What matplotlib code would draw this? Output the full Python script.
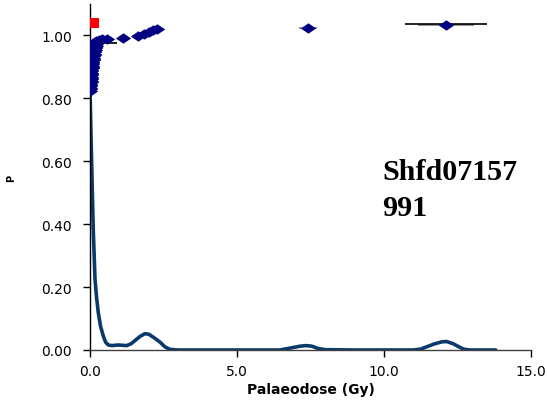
import matplotlib
matplotlib.use("Agg")
import matplotlib.pyplot as plt
from matplotlib.path import Path

# Probability curve (dose in Gy, P)
curve_dose = [0.00, 0.03, 0.07, 0.11, 0.17, 0.22, 0.28, 0.36, 0.45, 0.53, 0.62, 0.75,
              0.96, 1.10, 1.25, 1.40, 1.53, 1.70, 1.87, 2.00, 2.15, 2.38, 2.55, 2.72,
              3.00, 4.00, 5.00, 6.00, 6.46, 6.80, 7.14, 7.35, 7.55, 7.75, 8.00, 9.00,
              10.00, 11.00, 11.25, 11.45, 11.70, 11.97, 12.13, 12.35, 12.55, 12.70,
              12.90, 13.30, 13.80]
curve_p = [0.830, 0.700, 0.540, 0.385, 0.226, 0.170, 0.120, 0.075, 0.045, 0.025, 0.016, 0.014,
           0.016, 0.015, 0.014, 0.020, 0.030, 0.043, 0.052, 0.050, 0.041, 0.025, 0.010, 0.002,
           0.000, 0.000, 0.000, 0.000, 0.000, 0.006, 0.012, 0.014, 0.012, 0.005, 0.001, 0.000,
           0.000, 0.000, 0.003, 0.010, 0.019, 0.026, 0.027, 0.020, 0.010, 0.003,
           0.000, 0.000, 0.000]

# Individual aliquot doses with ranked P positions
point_dose = [0.00, 0.00, 0.00, 0.01, 0.01, 0.01, 0.02, 0.02, 0.02, 0.03, 0.03, 0.03,
              0.04, 0.04, 0.05, 0.05, 0.06, 0.06, 0.07, 0.07, 0.08, 0.08, 0.09, 0.09,
              0.10, 0.11, 0.12, 0.13, 0.14, 0.15, 0.16, 0.17,
              0.18, 0.19, 0.20, 0.21, 0.22,
              0.30, 0.42, 0.58, 1.12, 1.62, 1.85, 2.00, 2.15, 2.28, 7.42, 12.12]
point_p = [0.825, 0.830, 0.834, 0.838, 0.843, 0.847, 0.851, 0.856, 0.860, 0.864, 0.869, 0.873,
           0.877, 0.882, 0.886, 0.890, 0.895, 0.899, 0.903, 0.908, 0.912, 0.916, 0.921, 0.925,
           0.929, 0.934, 0.938, 0.942, 0.947, 0.951, 0.955, 0.960,
           0.964, 0.968, 0.973, 0.977, 0.981,
           0.985, 0.988, 0.990, 0.993, 0.998, 1.004, 1.010, 1.016, 1.020, 1.023, 1.032]
point_err = [0.03, 0.03, 0.03, 0.03, 0.03, 0.03, 0.03, 0.03, 0.03, 0.03, 0.03, 0.03,
             0.03, 0.03, 0.03, 0.03, 0.03, 0.03, 0.03, 0.03, 0.03, 0.03, 0.03, 0.03,
             0.03, 0.03, 0.03, 0.03, 0.03, 0.03, 0.03, 0.03,
             0.04, 0.04, 0.04, 0.04, 0.04,
             0.05, 0.05, 0.05, 0.08, 0.10, 0.12, 0.15, 0.20, 0.25, 0.30, 0.95]

# Summary (black) error bars
summary_dose = [0.42, 12.10]
summary_p = [0.975, 1.035]
summary_err = [0.50, 1.40]

# Red reference marker
ref_dose = [0.05]
ref_p = [1.041]

x_ticks = [0.0, 5.0, 10.0, 15.0]
y_ticks = [0.0, 0.2, 0.4, 0.6, 0.8, 1.0]
sample_label = "Shfd07157\n991"

fig = plt.figure(figsize=(5.47, 4.02), dpi=100)
ax = fig.add_axes([90/547, 51/402, 441/547, 346/402])

ax.plot(curve_dose, curve_p, color="#0a3a6b", lw=2.6, zorder=2, solid_capstyle="round")

ax.errorbar(point_dose, point_p, xerr=point_err, fmt="none", ecolor="#808080", elinewidth=1.2, zorder=3)
ax.errorbar(summary_dose, summary_p, xerr=summary_err, fmt="none", ecolor="black", elinewidth=1.2, zorder=3)

diamond = Path([(-1, 0), (0, 0.68), (1, 0), (0, -0.68), (-1, 0)],
               [Path.MOVETO, Path.LINETO, Path.LINETO, Path.LINETO, Path.CLOSEPOLY])
ax.plot(point_dose, point_p, ls="none", marker=diamond, ms=11, color="#000080",
        markeredgewidth=0, zorder=4)

rect = Path([(-1, -0.6), (1, -0.6), (1, 0.6), (-1, 0.6), (-1, -0.6)],
            [Path.MOVETO, Path.LINETO, Path.LINETO, Path.LINETO, Path.CLOSEPOLY])
ax.plot(ref_dose, ref_p, ls="none", marker=rect, ms=11, color="#ff0000",
        markeredgewidth=0, zorder=5)

ax.set_xlim(0, 15)
ax.set_ylim(0, 1.1)
ax.set_xticks(x_ticks)
ax.set_xticklabels([f"{v:.1f}" for v in x_ticks])
ax.set_yticks(y_ticks)
ax.set_yticklabels([f"{v:.2f}" for v in y_ticks])
for s in ["top", "right"]:
    ax.spines[s].set_visible(False)
for s in ["left", "bottom"]:
    ax.spines[s].set_color("black")
    ax.spines[s].set_linewidth(1.0)
ax.spines["bottom"].set_color("#404040")
ax.tick_params(axis="both", direction="out", length=5, width=1, labelsize=10,
               labelfontfamily="DejaVu Sans", pad=5)
ax.tick_params(axis="y", pad=8)

ax.set_xlabel("Palaeodose (Gy)", fontsize=10, fontweight="bold", family="DejaVu Sans", labelpad=3)
ax.set_ylabel("P", fontsize=7, fontweight="bold", family="DejaVu Sans", labelpad=18)

ax.text(9.93, 0.61, sample_label, fontsize=21.6, fontweight="bold", family="Liberation Serif",
        ha="left", va="top", linespacing=1.42)

fig.savefig("out.png", dpi=100)
